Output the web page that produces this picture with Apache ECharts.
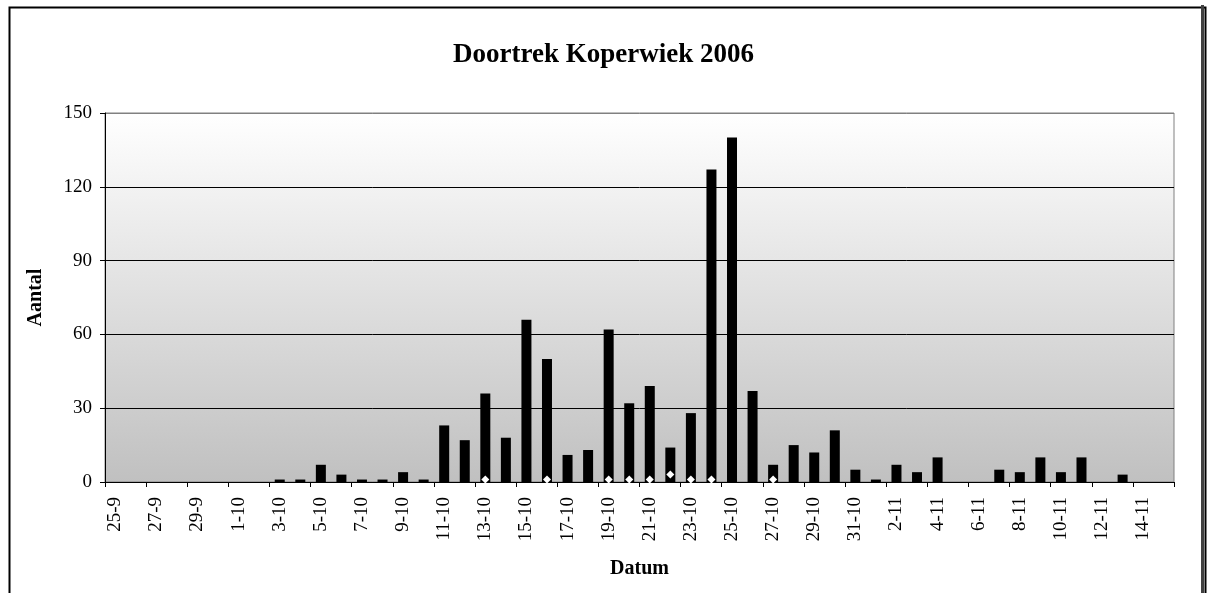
<!DOCTYPE html>
<html>
<head>
<meta charset="utf-8">
<script src="https://cdn.jsdelivr.net/npm/echarts@6/dist/echarts.min.js"></script>
<style>
  html, body { margin: 0; padding: 0; background: #ffffff; }
  #chart { width: 1207px; height: 593px; }
</style>
</head>
<body>
<div id="chart"></div>
<script>
const titleText = 'Doortrek Koperwiek 2006';
const yAxisName = 'Aantal';
const xAxisName = 'Datum';

const categories = [
  '25-9','26-9','27-9','28-9','29-9','30-9',
  '1-10','2-10','3-10','4-10','5-10','6-10','7-10','8-10','9-10','10-10',
  '11-10','12-10','13-10','14-10','15-10','16-10','17-10','18-10','19-10','20-10',
  '21-10','22-10','23-10','24-10','25-10','26-10','27-10','28-10','29-10','30-10','31-10',
  '1-11','2-11','3-11','4-11','5-11','6-11','7-11','8-11','9-11','10-11',
  '11-11','12-11','13-11','14-11','15-11'
];

const countValues = [
  0,0,0,0,0,0,
  0,0,1,1,7,3,1,1,4,1,
  23,17,36,18,66,50,11,13,62,32,
  39,14,28,127,140,37,7,15,12,21,5,
  1,7,4,10,0,0,5,4,10,4,
  10,0,3,0,0
];

const markerValues = [
  null,null,null,null,null,null,
  null,null,null,null,null,null,null,null,null,null,
  null,null,1,null,null,1,null,null,1,1,
  1,3,1,1,null,null,1,null,null,null,null,
  null,null,null,null,null,null,null,null,null,null,
  null,null,null,null,null
];

const yTicks = [0, 30, 60, 90, 120, 150];

const serif = '"Liberation Serif", "Times New Roman", serif';

const chart = echarts.init(document.getElementById('chart'), null, { renderer: 'canvas' });

chart.setOption({
  backgroundColor: '#ffffff',
  animation: false,
  title: {
    text: titleText,
    left: 'center',
    top: 37,
    textStyle: { fontFamily: serif, fontWeight: 'bold', fontSize: 27, color: '#000' }
  },
  graphic: [{
    type: 'rect',
    left: 7, top: 5,
    shape: { width: 1196, height: 620 },
    style: { fill: 'none', stroke: '#000', lineWidth: 2 },
    z: 100
  }, {
    type: 'rect',
    left: 1201, top: 5,
    shape: { width: 3, height: 620 },
    style: { fill: '#404040' },
    z: 101
  }],
  grid: {
    left: 105, right: 33, top: 113, bottom: 111,
    show: true,
    borderColor: '#808080',
    borderWidth: 1,
    backgroundColor: {
      type: 'linear', x: 0, y: 0, x2: 0, y2: 1,
      colorStops: [
        { offset: 0, color: '#ffffff' },
        { offset: 1, color: '#c0c0c0' }
      ]
    }
  },
  xAxis: {
    type: 'category',
    data: categories,
    boundaryGap: true,
    name: xAxisName,
    nameLocation: 'middle',
    nameGap: 77,
    nameTextStyle: { fontFamily: serif, fontWeight: 'bold', fontSize: 20, color: '#000' },
    axisLine: { lineStyle: { color: '#000', width: 1 } },
    axisTick: { show: true, interval: 1, length: 5, lineStyle: { color: '#000' } },
    axisLabel: {
      interval: 1, rotate: 90, margin: 15,
      fontFamily: serif, fontSize: 19, color: '#000'
    },
    splitLine: { show: false }
  },
  yAxis: {
    type: 'value',
    min: yTicks[0], max: yTicks[yTicks.length - 1], interval: 30,
    name: yAxisName,
    nameLocation: 'middle',
    nameGap: 59,
    nameTextStyle: { fontFamily: serif, fontWeight: 'bold', fontSize: 20, color: '#000' },
    axisLine: { show: true, lineStyle: { color: '#000', width: 1 } },
    axisTick: { show: true, length: 5, lineStyle: { color: '#000' } },
    axisLabel: { margin: 13, fontFamily: serif, fontSize: 19, color: '#000' },
    splitLine: {
      show: true,
      lineStyle: { color: ['#000', '#000', '#000', '#000', '#000', '#808080'], width: 1 }
    }
  },
  series: [{
    name: 'Aantal',
    type: 'bar',
    data: countValues,
    barWidth: 10,
    itemStyle: { color: '#000' },
    z: 2
  }, {
    name: 'Marker',
    type: 'scatter',
    data: markerValues,
    symbol: 'diamond',
    symbolSize: 8,
    itemStyle: { color: '#ffffff', opacity: 1 },
    z: 5
  }]
});
</script>
</body>
</html>
